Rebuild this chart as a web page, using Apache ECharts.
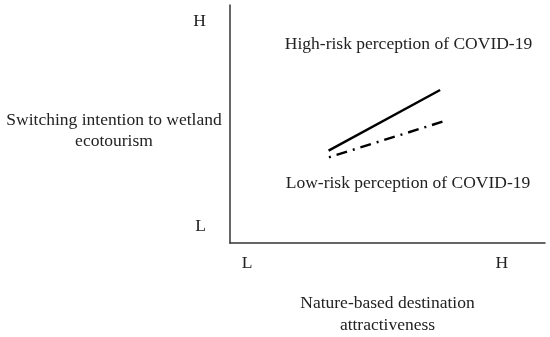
<!DOCTYPE html>
<html><head><meta charset="utf-8">
<script src="https://cdn.jsdelivr.net/npm/echarts@6/dist/echarts.min.js"></script>
<style>html,body{margin:0;padding:0;background:#fff}#c{width:550px;height:337px}</style>
</head><body><div id="c"></div>
<script>
// Data
var xTickValues = [5.4, 86.3];
var xTickLabels = ['L', 'H'];
var yTickValues = [7.1, 92.9];
var yTickLabels = ['L', 'H'];
var highRiskLine = [[31.3, 38.8], [66.7, 64.3]];
var lowRiskLine = [[31.4, 36.0], [68.5, 51.4]];
var seriesNames = ['High-risk perception of COVID-19', 'Low-risk perception of COVID-19'];
var xAxisName = 'Nature-based destination\nattractiveness';
var yAxisName = 'Switching intention to wetland\necotourism';

var font = 'Liberation Serif';
var fs = 17.5;
var chart = echarts.init(document.getElementById('c'));
chart.setOption({
  animation: false,
  backgroundColor: '#fff',
  textStyle: {fontFamily: font},
  grid: {left: 230, top: 5, right: 5, bottom: 94, containLabel: false, outerBoundsMode: 'none'},
  xAxis: {
    type: 'value', min: 0, max: 100,
    axisLine: {show: true, lineStyle: {color: '#333', width: 1.5}},
    axisTick: {show: false},
    splitLine: {show: false},
    axisLabel: {
      show: true, customValues: xTickValues, margin: 11,
      fontFamily: font, fontSize: fs, color: '#222',
      formatter: function (v) { return xTickLabels[xTickValues.indexOf(v)]; }
    },
    name: xAxisName, nameLocation: 'middle', nameGap: 49,
    nameTextStyle: {fontFamily: font, fontSize: fs, color: '#222', lineHeight: 22}
  },
  yAxis: {
    type: 'value', min: 0, max: 100,
    axisLine: {show: true, lineStyle: {color: '#333', width: 1.5}},
    axisTick: {show: false},
    splitLine: {show: false},
    axisLabel: {
      show: true, customValues: yTickValues, margin: 24,
      fontFamily: font, fontSize: fs, color: '#222',
      formatter: function (v) { return yTickLabels[yTickValues.indexOf(v)]; }
    }
  },
  graphic: [
    {type: 'text', x: 114, y: 131, style: {text: yAxisName, font: fs + 'px "Liberation Serif"', fill: '#222', textAlign: 'center', textVerticalAlign: 'middle', lineHeight: 21}},
    {type: 'text', x: 408.5, y: 44, style: {text: seriesNames[0], font: fs + 'px "Liberation Serif"', fill: '#222', textAlign: 'center', textVerticalAlign: 'middle'}},
    {type: 'text', x: 408, y: 183, style: {text: seriesNames[1], font: fs + 'px "Liberation Serif"', fill: '#222', textAlign: 'center', textVerticalAlign: 'middle'}}
  ],
  series: [
    {name: seriesNames[0], type: 'line', data: highRiskLine, symbol: 'none',
     lineStyle: {color: '#000', width: 2.4, type: 'solid'}},
    {name: seriesNames[1], type: 'line', data: lowRiskLine, symbol: 'none',
     lineStyle: {color: '#000', width: 2.4, type: [2, 6, 11, 6]}}
  ]
});
</script></body></html>
